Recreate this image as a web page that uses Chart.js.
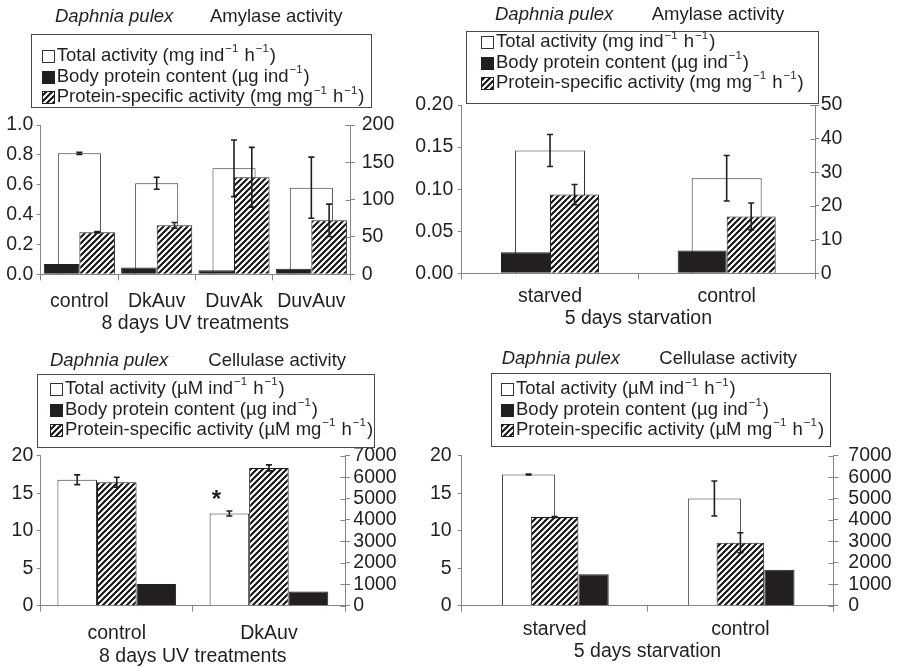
<!DOCTYPE html>
<html>
<head>
<meta charset="utf-8">
<script src="https://cdn.jsdelivr.net/npm/chart.js@4.4.1/dist/chart.umd.min.js"></script>
<style>
body { margin: 0; background: #fff; }
#wrap { position: relative; width: 900px; height: 668px; overflow: hidden; }
canvas { position: absolute; }
</style>
</head>
<body>
<div id="wrap">
<canvas id="c1" width="420" height="333" style="left:0;top:0"></canvas>
<canvas id="c2" width="500" height="330" style="left:400px;top:0"></canvas>
<canvas id="c3" width="420" height="338" style="left:0;top:330px"></canvas>
<canvas id="c4" width="500" height="338" style="left:400px;top:330px"></canvas>
</div>
<script>
// data
var species = 'Daphnia pulex';
var amyTitle = 'Amylase activity';
var celTitle = 'Cellulase activity';
var amyLabels = ['Total activity (mg ind^-1 h^-1)', 'Body protein content (µg ind^-1)', 'Protein-specific activity (mg mg^-1 h^-1)'];
var celLabels = ['Total activity (µM ind^-1 h^-1)', 'Body protein content (µg ind^-1)', 'Protein-specific activity (µM mg^-1 h^-1)'];

var uvCats = ['control', 'DkAuv', 'DuvAk', 'DuvAuv'];
var uvCats2 = ['control', 'DkAuv'];
var starvCats = ['starved', 'control'];
var uvAxisTitle = '8 days UV treatments';
var starvAxisTitle = '5 days starvation';

// amylase, UV
var amyUvTotal = [0.81, 0.61, 0.71, 0.58];
var amyUvTotalErr = [0.007, 0.04, 0.19, 0.205];
var amyUvProtein = [0.069, 0.045, 0.027, 0.038];
var amyUvSpecific = [56.3, 65.6, 130, 72.3];
var amyUvSpecificErr = [0.8, 3.8, 40, 21.7];

// amylase, starvation
var amyStTotal = [0.146, 0.113];
var amyStTotalErr = [0.019, 0.027];
var amyStProtein = [0.025, 0.027];
var amyStSpecific = [23.4, 16.9];
var amyStSpecificErr = [3.0, 4.0];

// cellulase, UV
var celUvTotal = [16.8, 12.3];
var celUvTotalErr = [0.65, 0.33];
var celUvProtein = [2.9, 1.9];
var celUvSpecific = [5760, 6430];
var celUvSpecificErr = [235, 140];

// cellulase, starvation
var celStTotal = [17.5, 14.3];
var celStTotalErr = [0.05, 2.33];
var celStProtein = [4.2, 4.8];
var celStSpecific = [4140, 2940];
var celStSpecificErr = [20, 467];

// axis ranges [min, max, step]
var amyUvLeft = [0, 1, 0.2], amyUvRight = [0, 200, 50];
var amyStLeft = [0, 0.2, 0.05], amyStRight = [0, 50, 10];
var celLeft = [0, 20, 5], celRight = [0, 7000, 1000];

var FONT = 'Arial, "Liberation Sans", Helvetica, sans-serif';
var ink = '#231f20';
var axisGray = '#858585';
Chart.defaults.font.family = FONT;
Chart.defaults.color = ink;
Chart.defaults.animation = false;

function hatch() {
  var c = document.createElement('canvas');
  c.width = 6; c.height = 6;
  var x = c.getContext('2d');
  x.fillStyle = '#fff';
  x.fillRect(0, 0, 6, 6);
  x.strokeStyle = '#111';
  x.lineWidth = 2;
  x.beginPath();
  x.moveTo(-1, 7); x.lineTo(7, -1);
  x.moveTo(-1, 1); x.lineTo(1, -1);
  x.moveTo(5, 7); x.lineTo(7, 5);
  x.stroke();
  return x.createPattern(c, 'repeat');
}
var stripes = hatch();

function richText(ctx, text, x, y, size) {
  var parts = text.split('^-1');
  for (var i = 0; i < parts.length; i++) {
    ctx.font = size + 'px ' + FONT;
    ctx.fillText(parts[i], x, y);
    x += ctx.measureText(parts[i]).width;
    if (i < parts.length - 1) {
      ctx.font = (size * 0.62) + 'px ' + FONT;
      ctx.fillText('\u22121', x + 1, y - size * 0.36);
      x += ctx.measureText('\u22121').width + 2;
    }
  }
}

var errorBars = {
  id: 'errorBars',
  afterDatasetsDraw: function(chart) {
    var ctx = chart.ctx;
    ctx.save();
    ctx.strokeStyle = ink;
    ctx.lineWidth = 1.6;
    chart.data.datasets.forEach(function(ds, i) {
      if (!ds.errors) return;
      var meta = chart.getDatasetMeta(i);
      var sc = chart.scales[meta.yAxisID];
      meta.data.forEach(function(bar, j) {
        var v = ds.data[j], e = ds.errors[j];
        var x = bar.x;
        var y1 = sc.getPixelForValue(v + e), y2 = sc.getPixelForValue(v - e);
        ctx.beginPath();
        ctx.moveTo(x, y1); ctx.lineTo(x, y2);
        ctx.moveTo(x - 3, y1); ctx.lineTo(x + 3, y1);
        ctx.moveTo(x - 3, y2); ctx.lineTo(x + 3, y2);
        ctx.stroke();
      });
    });
    ctx.restore();
  }
};

// the right-hand axis ticks cross the axis line: add the inner half
var innerTicks = {
  id: 'innerTicks',
  afterDraw: function(chart) {
    var sc = chart.scales.y1;
    if (!sc) return;
    var ctx = chart.ctx;
    ctx.save();
    ctx.strokeStyle = axisGray;
    ctx.lineWidth = 1;
    var x = Math.round(sc.left) + 0.5;
    sc.ticks.forEach(function(t, i) {
      var y = Math.round(sc.getPixelForTick(i)) + 0.5;
      ctx.beginPath();
      ctx.moveTo(x - 5, y); ctx.lineTo(x, y);
      ctx.stroke();
    });
    ctx.restore();
  }
};

var boxLegend = {
  id: 'boxLegend',
  afterDraw: function(chart, args, o) {
    if (!o.rows) return;
    var ctx = chart.ctx;
    ctx.save();
    ctx.fillStyle = '#fff';
    ctx.fillRect(o.x, o.y, o.w, o.h);
    ctx.strokeStyle = '#4a4a4a';
    ctx.lineWidth = 1;
    ctx.strokeRect(Math.round(o.x) + 0.5, Math.round(o.y) + 0.5, Math.round(o.w), Math.round(o.h));
    ctx.textBaseline = 'middle';
    ctx.textAlign = 'left';
    chart.data.datasets.forEach(function(ds, i) {
      var cy = o.rows[i];
      var sx = Math.round(o.sx) + 0.5, sy = Math.round(cy - 6) + 0.5;
      ctx.fillStyle = ds.backgroundColor;
      ctx.fillRect(sx, sy, 12, 12);
      ctx.strokeStyle = ds.borderColor;
      ctx.strokeRect(sx, sy, 12, 12);
      ctx.fillStyle = ink;
      richText(ctx, ds.label, o.tx, cy, 18.5);
    });
    ctx.restore();
  }
};

var panelTitle = {
  id: 'panelTitle',
  afterDraw: function(chart, args, o) {
    if (!o.text) return;
    var ctx = chart.ctx;
    ctx.save();
    ctx.fillStyle = ink;
    ctx.textBaseline = 'middle';
    ctx.textAlign = 'left';
    ctx.font = 'italic 18.5px ' + FONT;
    ctx.fillText(species, o.x1, o.y);
    ctx.font = '18.5px ' + FONT;
    ctx.fillText(o.text, o.x2, o.y);
    ctx.restore();
  }
};

var starMark = {
  id: 'starMark',
  afterDatasetsDraw: function(chart, args, o) {
    if (!o.text) return;
    var bar = chart.getDatasetMeta(o.dataset).data[o.index];
    var ctx = chart.ctx;
    ctx.save();
    ctx.fillStyle = ink;
    ctx.font = 'bold 24px ' + FONT;
    ctx.textAlign = 'center';
    ctx.textBaseline = 'alphabetic';
    ctx.fillText(o.text, bar.x + o.dx, bar.y + o.dy);
    ctx.restore();
  }
};

function yAxis(pos, range, dec, width, tl, pad) {
  return {
    position: pos,
    min: range[0],
    max: range[1],
    border: { color: axisGray },
    grid: { drawOnChartArea: false, color: axisGray, tickLength: tl },
    ticks: {
      stepSize: range[2], autoSkip: false, padding: pad, color: ink,
      font: { size: 19.5, lineHeight: 1 },
      callback: function(v) { return v.toFixed(dec); }
    },
    afterFit: function(s) { s.width = width; }
  };
}

function xAxis(title, height, pad, titlePad) {
  return {
    border: { color: axisGray },
    grid: { drawOnChartArea: false, color: axisGray, tickLength: 6, offset: true },
    ticks: { padding: pad, color: ink, font: { size: 19.5, lineHeight: 1 } },
    title: { display: true, text: title, color: ink, font: { size: 19.5, lineHeight: 1 }, padding: { top: 0, bottom: titlePad } },
    afterFit: function(s) { s.height = height; }
  };
}

function totalStyle(extra) {
  return Object.assign({ yAxisID: 'y', backgroundColor: '#fff', borderColor: '#333', borderWidth: 1 }, extra);
}
function proteinStyle(extra) {
  return Object.assign({ yAxisID: 'y', backgroundColor: ink, borderColor: ink, borderWidth: 1 }, extra);
}
function specificStyle(extra) {
  return Object.assign({ yAxisID: 'y1', backgroundColor: stripes, borderColor: ink, borderWidth: 1 }, extra);
}

function panel(id, cats, sets, top, scales, pl) {
  return new Chart(document.getElementById(id), {
    type: 'bar',
    data: { labels: cats, datasets: sets },
    options: {
      responsive: false,
      layout: { padding: { top: top, left: 0, right: 0, bottom: 0 } },
      plugins: Object.assign({ legend: { display: false }, tooltip: { enabled: false } }, pl),
      scales: scales
    },
    plugins: [errorBars, innerTicks, boxLegend, panelTitle, starMark]
  });
}

// top-left: amylase, UV treatments
panel('c1', uvCats, [
  totalStyle({ label: amyLabels[0], data: amyUvTotal, errors: amyUvTotalErr, grouped: false, order: 1, categoryPercentage: 1, barPercentage: 0.557 }),
  proteinStyle({ label: amyLabels[1], data: amyUvProtein, order: 0, categoryPercentage: 0.92, barPercentage: 1 }),
  specificStyle({ label: amyLabels[2], data: amyUvSpecific, errors: amyUvSpecificErr, order: 0, categoryPercentage: 0.92, barPercentage: 1 })
], 125, {
  x: xAxis(uvAxisTitle, 58.7, 11.6, 0),
  y: yAxis('left', amyUvLeft, 1, 40.7, 4, 3.4),
  y1: yAxis('right', amyUvRight, 0, 70, 5, 6.7)
}, {
  panelTitle: { text: amyTitle, x1: 55, x2: 210, y: 16.7 },
  boxLegend: { x: 31, y: 34.3, w: 339.7, h: 73, sx: 42, tx: 56.7, rows: [55.7, 76.7, 97.3] }
});

// top-right: amylase, starvation
panel('c2', starvCats, [
  totalStyle({ label: amyLabels[0], data: amyStTotal, errors: amyStTotalErr, grouped: false, order: 1, categoryPercentage: 1, barPercentage: 0.396 }),
  proteinStyle({ label: amyLabels[1], data: amyStProtein, order: 0, categoryPercentage: 0.555, barPercentage: 1 }),
  specificStyle({ label: amyLabels[2], data: amyStSpecific, errors: amyStSpecificErr, order: 0, categoryPercentage: 0.555, barPercentage: 1 })
], 105, {
  x: xAxis(starvAxisTitle, 56.7, 7.6, 2),
  y: yAxis('left', amyStLeft, 2, 61.7, 4, 4.4),
  y1: yAxis('right', amyStRight, 0, 85, 4, 1.7)
}, {
  panelTitle: { text: amyTitle, x1: 95, x2: 251.7, y: 15 },
  boxLegend: { x: 66, y: 30.7, w: 352.3, h: 72.3, sx: 81, tx: 96, rows: [42.3, 62.5, 82.5] }
});

// bottom-left: cellulase, UV treatments
panel('c3', uvCats2, [
  totalStyle({ label: celLabels[0], data: celUvTotal, errors: celUvTotalErr, order: 0, categoryPercentage: 0.78, barPercentage: 1 }),
  proteinStyle({ label: celLabels[1], data: celUvProtein, order: 2, categoryPercentage: 0.78, barPercentage: 1 }),
  specificStyle({ label: celLabels[2], data: celUvSpecific, errors: celUvSpecificErr, order: 1, categoryPercentage: 0.78, barPercentage: 1 })
], 125.7, {
  x: xAxis(uvAxisTitle, 62.3, 11.85, 1.5),
  y: yAxis('left', celLeft, 0, 40.7, 4, 3.4),
  y1: yAxis('right', celRight, 0, 75, 5, 3.3)
}, {
  panelTitle: { text: celTitle, x1: 50, x2: 208.3, y: 30.7 },
  boxLegend: { x: 37.3, y: 44.3, w: 336.7, h: 73, sx: 49.5, tx: 65, rows: [59, 80, 100] },
  starMark: { text: '*', dataset: 0, index: 1, dx: -13, dy: -6 }
});

// bottom-right: cellulase, starvation
panel('c4', starvCats, [
  totalStyle({ label: celLabels[0], data: celStTotal, errors: celStTotalErr, order: 1, categoryPercentage: 0.56, barPercentage: 1.02 }),
  proteinStyle({ label: celLabels[1], data: celStProtein, order: 2, categoryPercentage: 0.84, barPercentage: 0.387 }),
  specificStyle({ label: celLabels[2], data: celStSpecific, errors: celStSpecificErr, grouped: false, order: 0, categoryPercentage: 1, barPercentage: 0.256 })
], 125.7, {
  x: xAxis(starvAxisTitle, 62.3, 8.5, 7),
  y: yAxis('left', celLeft, 0, 61.7, 4, 6),
  y1: yAxis('right', celRight, 0, 66.7, 5, 10)
}, {
  panelTitle: { text: celTitle, x1: 101.7, x2: 259.3, y: 29.3 },
  boxLegend: { x: 90.7, y: 42.7, w: 338.6, h: 73.3, sx: 101, tx: 116, rows: [59.3, 80, 100] }
});
</script>
</body>
</html>
